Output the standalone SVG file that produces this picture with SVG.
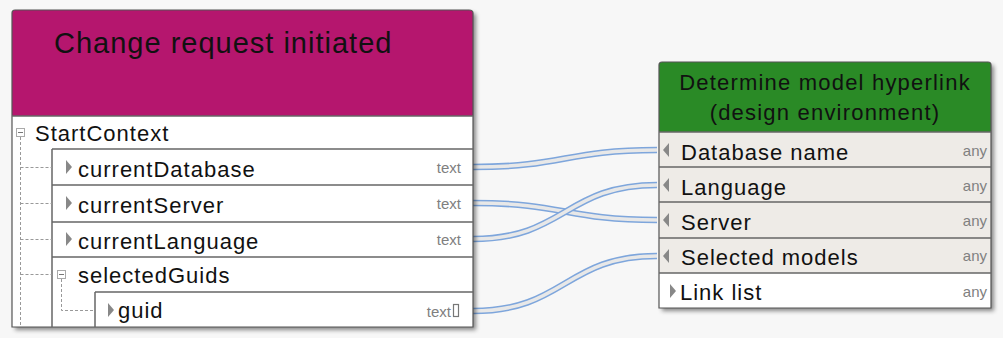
<svg xmlns="http://www.w3.org/2000/svg" width="1003" height="338" viewBox="0 0 1003 338">
<defs>
<filter id="sh" x="-5%" y="-5%" width="115%" height="115%">
<feDropShadow dx="3" dy="3" stdDeviation="2" flood-color="#000" flood-opacity="0.45"/>
</filter>
<style>
.t{font-family:"Liberation Sans",Arial,sans-serif;fill:#111}
.row{font-size:22px;letter-spacing:1px}
.ty{font-family:"Liberation Sans",Arial,sans-serif;font-size:15px;fill:#808080;text-anchor:end}
.bd{stroke:#555;stroke-width:1.2;fill:none}
.sep{stroke:#666;stroke-width:1.5}
.dash{stroke:#999;stroke-width:1;stroke-dasharray:3,2;fill:none}
.tri{fill:#888}
.c1{fill:none;stroke:#7ea6dc;stroke-width:6.5}
.c2{fill:none;stroke:#e8e8e8;stroke-width:3.5}
</style>
</defs>
<rect width="1003" height="338" fill="#f7f7f7"/>

<g id="connectors">
<path class="c1" d="M473,167 C565,167 565,150 657,150"/>
<path class="c2" d="M473,167 C565,167 565,150 657,150"/>
<path class="c1" d="M473,203 C565,203 565,220 657,220"/>
<path class="c2" d="M473,203 C565,203 565,220 657,220"/>
<path class="c1" d="M473,239 C565,239 565,185 657,185"/>
<path class="c2" d="M473,239 C565,239 565,185 657,185"/>
<path class="c1" d="M473,311 C565,311 565,256 657,256"/>
<path class="c2" d="M473,311 C565,311 565,256 657,256"/>
</g>

<g id="node-change-request">
<g filter="url(#sh)">
<path d="M12,116 V13 Q12,10 15,10 H469 Q473,10 473,13 V116 Z" fill="#b5186e"/>
<rect x="12" y="116" width="461" height="211" fill="#fff"/>
</g>
<path class="bd" d="M12,327 V13 Q12,10 15,10 H469 Q473,10 473,13 V327 Z"/>
<line class="sep" x1="12" y1="116" x2="473" y2="116"/>
<text class="t" x="54" y="53" font-size="29" letter-spacing="1">Change request initiated</text>
<line class="sep" x1="52" y1="149" x2="473" y2="149"/>
<line class="sep" x1="52" y1="185" x2="473" y2="185"/>
<line class="sep" x1="52" y1="222" x2="473" y2="222"/>
<line class="sep" x1="52" y1="257" x2="473" y2="257"/>
<line class="sep" x1="95" y1="292" x2="473" y2="292"/>
<line class="sep" x1="52" y1="149" x2="52" y2="327"/>
<line class="sep" x1="95" y1="292" x2="95" y2="327"/>
<rect x="16.5" y="128.5" width="8" height="8" fill="#fff" stroke="#aaa"/>
<line x1="18" y1="132.5" x2="23" y2="132.5" stroke="#777"/>
<path class="dash" d="M20.5,137 V325 M20.5,167.5 H52 M20.5,203.5 H52 M20.5,239.5 H52 M20.5,274.5 H52"/>
<rect x="57.5" y="270.5" width="8" height="8" fill="#fff" stroke="#aaa"/>
<line x1="59" y1="274.5" x2="64" y2="274.5" stroke="#777"/>
<path class="dash" d="M61.5,279 V310.5 H95"/>
<text class="t row" x="35" y="141">StartContext</text>
<path class="tri" d="M66,160 L72,167 L66,174 Z"/>
<text class="t row" x="78" y="177">currentDatabase</text>
<path class="tri" d="M66,196 L72,203 L66,210 Z"/>
<text class="t row" x="78" y="213">currentServer</text>
<path class="tri" d="M66,232 L72,239 L66,246 Z"/>
<text class="t row" x="78" y="249">currentLanguage</text>
<text class="t row" x="78" y="283">selectedGuids</text>
<path class="tri" d="M108,303 L114,310 L108,317 Z"/>
<text class="t row" x="118" y="318">guid</text>
<text class="ty" x="461" y="173">text</text>
<text class="ty" x="461" y="209">text</text>
<text class="ty" x="461" y="245">text</text>
<text class="ty" x="451" y="317">text</text>
<rect x="453.5" y="304.5" width="5" height="12" fill="none" stroke="#777" stroke-width="1.2"/>
</g>

<g id="node-determine-hyperlink">
<g filter="url(#sh)">
<path d="M659,132 V65 Q659,62 662,62 H988 Q991,62 991,65 V132 Z" fill="#2a8a27"/>
<rect x="659" y="132" width="332" height="176" fill="#fff"/>
</g>
<rect x="659" y="132" width="332" height="141" fill="#eeebe7"/>
<path class="bd" d="M659,308 V65 Q659,62 662,62 H988 Q991,62 991,65 V308 Z"/>
<line class="sep" x1="659" y1="132" x2="991" y2="132"/>
<line class="sep" x1="659" y1="167" x2="991" y2="167"/>
<line class="sep" x1="659" y1="202" x2="991" y2="202"/>
<line class="sep" x1="659" y1="238" x2="991" y2="238"/>
<line class="sep" x1="659" y1="273" x2="991" y2="273"/>
<text class="t" x="825" y="90" font-size="22" letter-spacing="1.2" text-anchor="middle">Determine model hyperlink</text>
<text class="t" x="825" y="120" font-size="22" letter-spacing="1.2" text-anchor="middle">(design environment)</text>
<path class="tri" d="M669,143 L663,150 L669,157 Z"/>
<text class="t row" x="681" y="160">Database name</text>
<path class="tri" d="M669,178 L663,185 L669,192 Z"/>
<text class="t row" x="681" y="195">Language</text>
<path class="tri" d="M669,213 L663,220 L669,227 Z"/>
<text class="t row" x="681" y="230">Server</text>
<path class="tri" d="M669,249 L663,256 L669,263 Z"/>
<text class="t row" x="681" y="265">Selected models</text>
<path class="tri" d="M670,284 L676,291 L670,298 Z"/>
<text class="t row" x="680" y="300">Link list</text>
<text class="ty" x="987" y="156">any</text>
<text class="ty" x="987" y="191">any</text>
<text class="ty" x="987" y="226">any</text>
<text class="ty" x="987" y="261">any</text>
<text class="ty" x="987" y="297">any</text>
</g>
</svg>
